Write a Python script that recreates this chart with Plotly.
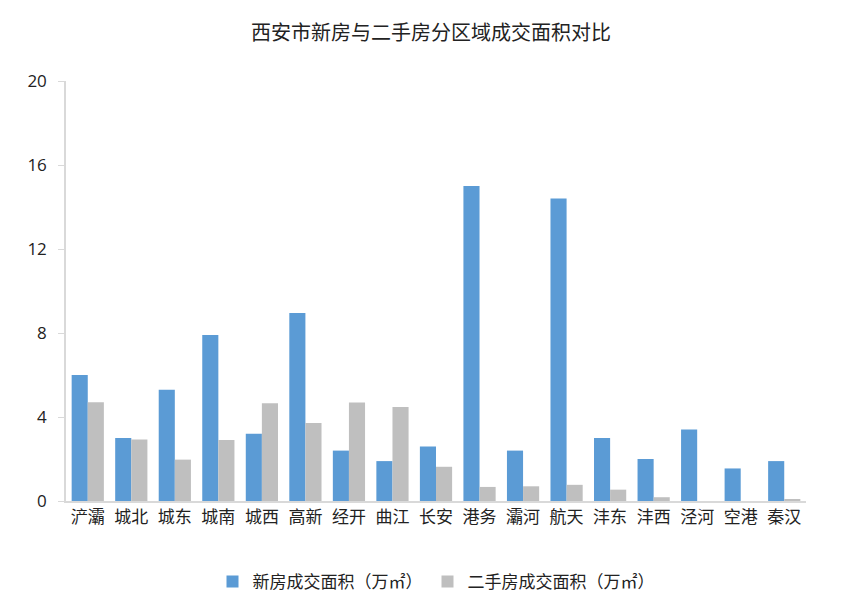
import plotly.graph_objects as go

# 区域与成交面积（万㎡）
districts = ['浐灞', '城北', '城东', '城南', '城西', '高新', '经开', '曲江', '长安',
             '港务', '灞河', '航天', '沣东', '沣西', '泾河', '空港', '秦汉']
new_area = [6.0, 3.0, 5.3, 7.9, 3.2, 8.95, 2.4, 1.9, 2.6,
            15.0, 2.4, 14.4, 3.0, 2.0, 3.4, 1.55, 1.9]
second_area = [4.7, 2.93, 1.97, 2.91, 4.65, 3.71, 4.69, 4.48, 1.63,
               0.67, 0.70, 0.77, 0.54, 0.18, 0.0, 0.0, 0.08]
y_ticks = [0, 4, 8, 12, 16, 20]

font_cjk = 'Noto Sans CJK SC, Microsoft YaHei, sans-serif'

fig = go.Figure()
fig.add_trace(go.Bar(x=districts, y=new_area, name='新房成交面积（万㎡）',
                     marker=dict(color='#5B9BD5', line=dict(width=0))))
fig.add_trace(go.Bar(x=districts, y=second_area, name='二手房成交面积（万㎡）',
                     marker=dict(color='#BFBFBF', line=dict(width=0))))

fig.update_layout(
    width=846, height=608,
    title=dict(text='西安市新房与二手房分区域成交面积对比', x=0.5, y=0.97,
               xanchor='center', font=dict(size=20, color='#222222', family=font_cjk)),
    font=dict(family=font_cjk, color='#222222', size=17),
    plot_bgcolor='white', paper_bgcolor='white',
    margin=dict(l=58, r=48, t=73, b=115),
    barmode='group', bargap=0.26, bargroupgap=0,
    legend=dict(orientation='h', x=0.5, xanchor='center', y=-0.15, yanchor='top',
                font=dict(size=17), itemwidth=30),
    showlegend=True,
)
fig.update_xaxes(showline=True, linecolor='#D9D9D9', linewidth=2,
                 ticks='', tickfont=dict(size=17))
fig.update_yaxes(range=[0, 20], tickvals=y_ticks, showgrid=False, zeroline=False,
                 showline=True, linecolor='#D9D9D9', linewidth=1.5,
                 ticks='outside', ticklen=6, tickcolor='#D9D9D9',
                 ticklabelstandoff=8,
                 tickfont=dict(size=17, family='Open Sans, sans-serif'))

fig.write_html('out.html')
